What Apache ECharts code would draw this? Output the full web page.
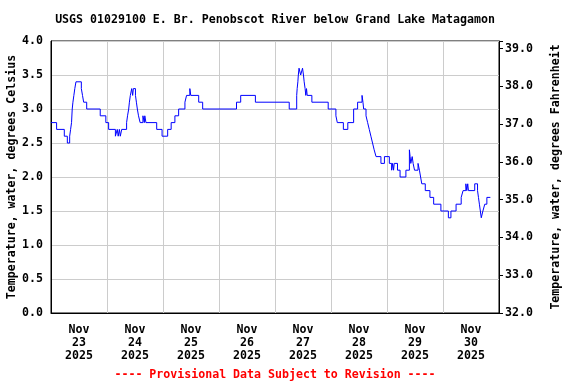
<!DOCTYPE html>
<html><head><meta charset="utf-8">
<script src="https://cdn.jsdelivr.net/npm/echarts@6/dist/echarts.min.js"></script>
<style>html,body{margin:0;padding:0;background:#fff}#c{width:576px;height:384px}</style>
</head><body><div id="c"></div>
<script>
const titleText = 'USGS 01029100 E. Br. Penobscot River below Grand Lake Matagamon';
const footerText = '---- Provisional Data Subject to Revision ----';
const leftAxisName = 'Temperature, water, degrees Celsius';
const rightAxisName = 'Temperature, water, degrees Fahrenheit';
const dayLabels = ['Nov\n23\n2025','Nov\n24\n2025','Nov\n25\n2025','Nov\n26\n2025','Nov\n27\n2025','Nov\n28\n2025','Nov\n29\n2025','Nov\n30\n2025'];
// hours since Nov 23 2025 00:00
const hours = [0,2.4,5.7,7.0,8.0,8.4,8.8,9.1,9.4,9.8,10.2,10.7,13.0,13.5,14.0,15.3,21.1,23.5,24.7,27.6,28.4,28.8,29.3,29.7,30.3,32.4,32.8,33.3,33.6,34.0,34.6,35.0,35.3,36.2,36.6,37.0,37.5,38.2,39.4,40.0,40.2,40.7,45.3,47.6,50.0,51.5,53.1,54.7,57.4,58.1,59.5,59.9,63.3,65.0,79.5,81.3,87.6,102.1,105.3,105.5,105.8,106.0,106.3,107.0,107.8,108.2,108.5,108.9,109.2,109.5,109.8,111.8,118.8,122.1,122.7,125.3,127.2,129.7,131.4,133.3,133.7,134.0,135.0,135.7,136.4,137.1,137.8,138.5,139.3,141.4,142.9,145.0,146.0,146.4,146.8,147.1,148.5,149.6,152.1,153.6,153.9,154.2,154.8,155.2,155.8,157.3,157.9,158.4,158.9,160.4,162.4,164.0,167.1,170.3,171.4,173.6,175.8,176.6,177.8,178.2,178.6,178.9,181.6,182.8,183.2,183.6,184.0,184.4,185.1,185.9,186.8,188.3];
const tempC = [2.8,2.7,2.6,2.5,2.6,2.7,2.8,3.0,3.1,3.2,3.3,3.4,3.3,3.2,3.1,3.0,2.9,2.8,2.7,2.6,2.7,2.6,2.7,2.6,2.7,2.8,2.9,3.0,3.1,3.2,3.3,3.2,3.3,3.2,3.1,3.0,2.9,2.8,2.9,2.8,2.9,2.8,2.7,2.6,2.7,2.8,2.9,3.0,3.1,3.2,3.3,3.2,3.1,3.0,3.1,3.2,3.1,3.0,3.2,3.3,3.4,3.5,3.6,3.5,3.6,3.5,3.4,3.3,3.2,3.3,3.2,3.1,3.0,2.9,2.8,2.7,2.8,3.0,3.1,3.2,3.1,3.0,2.9,2.8,2.7,2.6,2.5,2.4,2.3,2.2,2.3,2.2,2.1,2.2,2.1,2.2,2.1,2.0,2.1,2.4,2.3,2.2,2.3,2.2,2.1,2.2,2.1,2.0,1.9,1.8,1.7,1.6,1.5,1.4,1.5,1.6,1.7,1.8,1.9,1.8,1.9,1.8,1.9,1.8,1.7,1.6,1.5,1.4,1.5,1.6,1.7,1.7];

const FONT = 'DejaVu Sans Mono';
const chart = echarts.init(document.getElementById('c'));
const data = hours.map((h, i) => [h, tempC[i]]);
const txt = { fontFamily: FONT, fontWeight: 'bold', fontSize: 11.6, color: '#000' };

chart.setOption({
  animation: false,
  backgroundColor: '#fff',
  grid: { left: 51, right: 77, top: 41, bottom: 71, show: true, borderColor: '#000', borderWidth: 1,
          containLabel: false, outerBoundsMode: 'none' },
  graphic: [
    { type: 'text', x: 275, y: 20, style: { text: titleText, textAlign: 'center', textVerticalAlign: 'middle', fill: '#000', font: 'bold 11.6px ' + FONT } },
    { type: 'text', x: 275, y: 375, style: { text: footerText, textAlign: 'center', textVerticalAlign: 'middle', fill: '#ff0000', font: 'bold 11.6px ' + FONT } }
  ],
  xAxis: [
    { type: 'value', min: 0, max: 192, interval: 24, position: 'bottom',
      axisLine: { show: true, onZero: false, lineStyle: { color: '#000' } }, axisTick: { show: false }, axisLabel: { show: false },
      splitLine: { show: true, lineStyle: { color: '#cccccc', width: 1 } } },
    { type: 'value', min: 0, max: 192, interval: 12, position: 'bottom',
      axisLine: { show: false, onZero: false }, axisTick: { show: false }, splitLine: { show: false },
      axisLabel: Object.assign({ margin: 10, lineHeight: 13, showMinLabel: true, showMaxLabel: true,
        formatter: v => (v % 24 === 12) ? dayLabels[(v - 12) / 24] : '' }, txt) }
  ],
  yAxis: [
    { type: 'value', min: 0, max: 4, interval: 0.5, position: 'left',
      name: leftAxisName, nameLocation: 'middle', nameGap: 33, nameRotate: 90, nameMoveOverlap: false,
      nameTextStyle: txt,
      axisLine: { show: true, onZero: false, lineStyle: { color: '#000' } }, axisTick: { show: false },
      axisLabel: Object.assign({ margin: 8, formatter: v => v.toFixed(1) }, txt),
      splitLine: { show: true, lineStyle: { color: '#cccccc', width: 1 } } },
    { type: 'value', min: 32, max: 39.2, interval: 1, position: 'right',
      name: rightAxisName, nameLocation: 'middle', nameGap: 51, nameRotate: 90, nameMoveOverlap: false,
      nameTextStyle: txt,
      axisLine: { show: true, onZero: false, lineStyle: { color: '#000' } },
      axisTick: { show: true, inside: false, length: 4, lineStyle: { color: '#000' } },
      axisLabel: Object.assign({ margin: 6, formatter: v => (v > 39.05 ? '' : v.toFixed(1)) }, txt),
      splitLine: { show: false } }
  ],
  series: [{
    type: 'line', xAxisIndex: 0, yAxisIndex: 0, data: data, step: 'end',
    showSymbol: false, symbol: 'none',
    lineStyle: { color: '#0000ff', width: 1 }
  }]
});
</script></body></html>
